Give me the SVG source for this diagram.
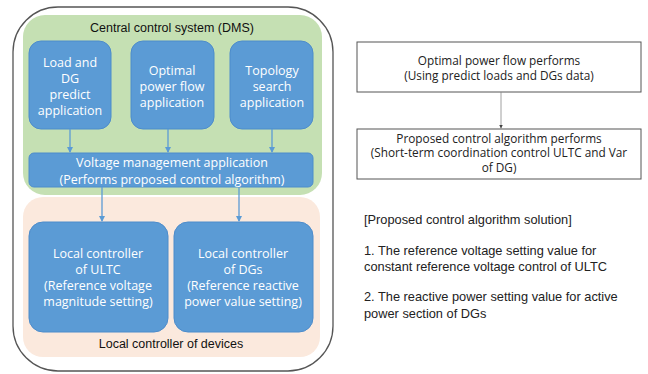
<svg xmlns="http://www.w3.org/2000/svg" width="648" height="374" viewBox="0 0 648 374">
<style>
.blue{fill:#5b9bd5;stroke:#4d8ccb;stroke-width:1}
.wt{font-family:"Open Sans","Noto Sans",sans-serif;font-size:12.5px;fill:#fff;text-anchor:middle}
.dk{font-family:"Liberation Sans",Arial,sans-serif;font-size:12.5px;fill:#111;text-anchor:middle}
.bt{font-family:"Open Sans","Noto Sans",sans-serif;font-size:11.8px;fill:#222;text-anchor:middle}
.lt{font-family:"Liberation Sans",Arial,sans-serif;font-size:12.8px;fill:#222}
.bl{stroke:#5b9bd5;stroke-width:1.3;fill:none}
.gr{stroke:#888;stroke-width:0.8;fill:none}
.box{fill:#fff;stroke:#555;stroke-width:1}
</style>
<defs>
<marker id="ab" markerWidth="6" markerHeight="6" refX="5" refY="3" orient="auto" markerUnits="userSpaceOnUse">
<path d="M0,0 L6,3 L0,6 Z" fill="#5b9bd5"/>
</marker>
<marker id="ag" markerWidth="4" markerHeight="4" refX="4" refY="2" orient="auto" markerUnits="userSpaceOnUse">
<path d="M0,0 L4,2 L0,4 Z" fill="#444"/>
</marker>
</defs>
<rect width="648" height="374" fill="#fff"/>
<g id="outer">
<rect x="13" y="7" width="320" height="364" rx="45" fill="#fff" stroke="#555" stroke-width="1.3"/>
</g>
<g id="dms">
<rect x="23" y="15" width="299" height="180" rx="22" fill="#c5e0b3"/>
<text class="dk" x="172" y="32">Central control system (DMS)</text>
</g>
<g id="local">
<rect x="23" y="197" width="297" height="160" rx="20" fill="#fbe9dd"/>
<text class="dk" x="171" y="348">Local controller of devices</text>
</g>
<g id="load">
<rect class="blue" x="29" y="41" width="82" height="88" rx="12"/>
<text class="wt" x="70" y="67">Load and</text>
<text class="wt" x="70" y="83">DG</text>
<text class="wt" x="70" y="99">predict</text>
<text class="wt" x="70" y="115">application</text>
</g>
<g id="opf">
<rect class="blue" x="131" y="41" width="83" height="88" rx="12"/>
<text class="wt" x="172" y="75">Optimal</text>
<text class="wt" x="172" y="91">power flow</text>
<text class="wt" x="172" y="107">application</text>
</g>
<g id="topo">
<rect class="blue" x="230" y="41" width="83" height="88" rx="12"/>
<text class="wt" x="272" y="75">Topology</text>
<text class="wt" x="272" y="91">search</text>
<text class="wt" x="272" y="107">application</text>
</g>
<g id="vma">
<rect class="blue" x="29" y="153" width="284" height="34" rx="5"/>
<text class="wt" x="172" y="167">Voltage management application</text>
<text class="wt" x="172" y="184">(Performs proposed control algorithm)</text>
</g>
<g id="ultc">
<rect class="blue" x="29" y="222" width="139" height="110" rx="14"/>
<text class="wt" x="98" y="258">Local controller</text>
<text class="wt" x="98" y="274">of ULTC</text>
<text class="wt" x="98" y="290">(Reference voltage</text>
<text class="wt" x="98" y="306">magnitude setting)</text>
</g>
<g id="dgs">
<rect class="blue" x="174" y="222" width="139" height="110" rx="14"/>
<text class="wt" x="243" y="258">Local controller</text>
<text class="wt" x="243" y="274">of DGs</text>
<text class="wt" x="243" y="290">(Reference reactive</text>
<text class="wt" x="243" y="306">power value setting)</text>
</g>
<g id="opfp">
<rect class="box" x="357" y="42" width="284" height="50"/>
<text class="bt" x="499" y="65">Optimal power flow performs</text>
<text class="bt" x="499" y="79.5">(Using predict loads and DGs data)</text>
</g>
<g id="pcap">
<rect class="box" x="357" y="129" width="284" height="50"/>
<text class="bt" x="499" y="142.5">Proposed control algorithm performs</text>
<text class="bt" x="499" y="157">(Short-term coordination control ULTC and Var</text>
<text class="bt" x="499" y="171.5">of DG)</text>
</g>
<g id="solution">
<text class="lt" x="364" y="224">[Proposed control algorithm solution]</text>
<text class="lt" x="364" y="255">1. The reference voltage setting value for</text>
<text class="lt" x="364" y="271">constant reference voltage control of ULTC</text>
<text class="lt" x="364" y="301">2. The reactive power setting value for active</text>
<text class="lt" x="364" y="318">power section of DGs</text>
</g>
<g id="connectors">
<line class="bl" x1="70" y1="129" x2="70" y2="152" marker-end="url(#ab)"/>
<line class="bl" x1="168" y1="129" x2="168" y2="152" marker-end="url(#ab)"/>
<line class="bl" x1="272" y1="129" x2="272" y2="152" marker-end="url(#ab)"/>
<line class="bl" x1="102" y1="187" x2="102" y2="221" marker-end="url(#ab)"/>
<line class="bl" x1="239" y1="187" x2="239" y2="221" marker-end="url(#ab)"/>
<line class="gr" x1="501" y1="92" x2="501" y2="128.5" marker-end="url(#ag)"/>
</g>
</svg>
